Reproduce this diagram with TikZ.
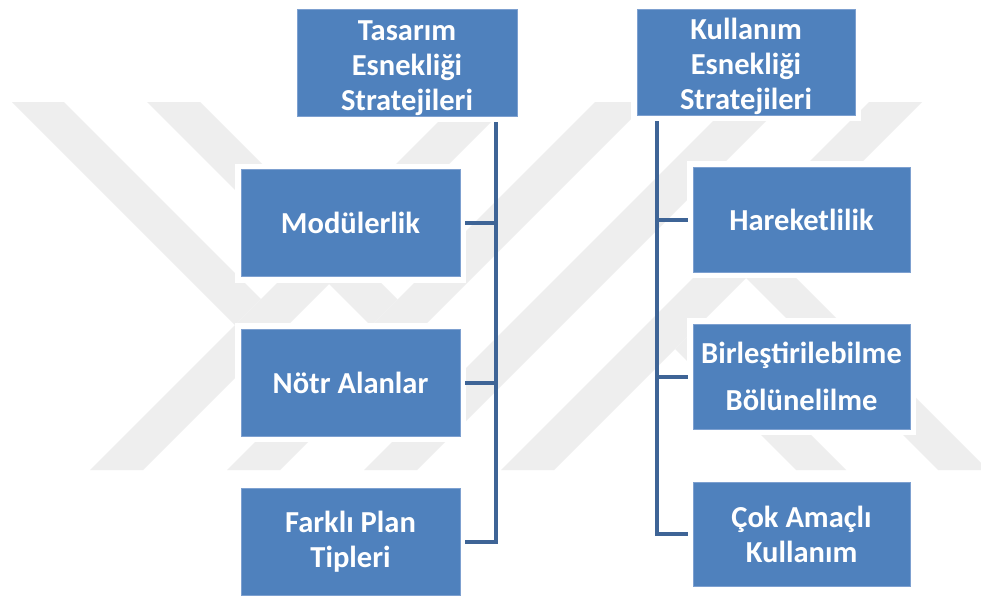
\documentclass[tikz,border=0pt]{standalone}
\usepackage{fontspec}
\setmainfont{Carlito}
\definecolor{boxfill}{RGB}{79,129,189}
\definecolor{boxedge}{RGB}{125,160,208}
\definecolor{conn}{RGB}{62,100,150}
\definecolor{wm}{RGB}{238,238,238}
\begin{document}
\begin{tikzpicture}[x=1pt,y=-1pt,
  box/.style={fill=boxfill, draw=boxedge, line width=0.8pt,
    preaction={draw=white, line width=12pt},
    minimum width=219pt, minimum height=107pt, inner sep=0pt,
    align=center, text=white,
    font=\fontsize{30.5}{35}\selectfont\bfseries},
  link/.style={draw=conn, line width=4pt},
  band/.style={fill=wm, draw=none}]
\useasboundingbox[fill=white] (0,0) rectangle (981,597);

% watermark
\fill[band] (12,102) -- (64,102) -- (261,299) -- (235,325) -- cycle;
\fill[band] (147,102) -- (200,102) -- (397.5,299.5) -- (371,326) -- cycle;
\fill[band] (90,470) -- (143,470) -- (511,102) -- (458,102) -- cycle;
\fill[band] (227,470) -- (280,470) -- (648,102) -- (595,102) -- cycle;
\fill[band] (364,470) -- (417,470) -- (785,102) -- (732,102) -- cycle;
\fill[band] (501,470) -- (554,470) -- (922,102) -- (869,102) -- cycle;
\fill[band] (675,349) -- (700,324) -- (846,470) -- (796,470) -- cycle;
\fill[band] (746,278) -- (771,253) -- (981,463) -- (981,470) -- (938,470) -- cycle;

% boxes
\node[box, minimum width=220pt] (h1) at (407,62.5) {\rule{0pt}{31pt}Tasarım\\Esnekliği\\Stratejileri};
\node[box, minimum width=218pt, minimum height=106pt] (h2) at (746,62) {\rule{0pt}{31pt}Kullanım\\Esnekliği\\Stratejileri};
\node[box] (m) at (350.5,223) {Modülerlik};
\node[box] (n) at (350.5,382.5) {Nötr Alanlar};
\node[box] (f) at (350.5,541.5) {Farklı Plan\\Tipleri};
\node[box, minimum width=217pt, minimum height=105pt] (hk) at (801.5,219.5) {Hareketlilik};
\node[box, minimum width=217pt, minimum height=105pt] (b) at (801.5,376.5) {Birleştirilebilme\\[12pt]Bölünelilme};
\node[box, minimum width=217pt, minimum height=104pt] (c) at (801.5,534) {Çok Amaçlı\\Kullanım};

% connectors
\coordinate (tl) at ([yshift=-6pt]h1.south -| 496,0);
\coordinate (tr) at ([yshift=-6pt]h2.south -| 657,0);
\draw[link] (tl) |- ([xshift=5pt]f.east);
\draw[link] ([xshift=5pt]m.east) -- (m.east -| tl);
\draw[link] ([xshift=5pt]n.east) -- (n.east -| tl);
\draw[link] (tr) |- ([xshift=-5pt]c.west);
\draw[link] ([xshift=-5pt]hk.west) -- (hk.west -| tr);
\draw[link] ([xshift=-5pt]b.west) -- (b.west -| tr);
\end{tikzpicture}
\end{document}
